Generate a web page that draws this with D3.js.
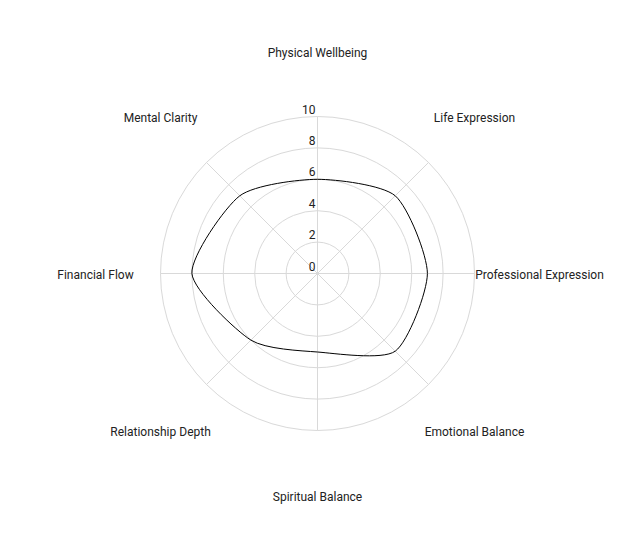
<!DOCTYPE html>
<html>
<head>
<meta charset="utf-8">
<script src="https://cdn.jsdelivr.net/npm/d3@7"></script>
<style>
  html, body { margin: 0; padding: 0; background: #fff; }
  svg { display: block; font-family: Roboto, "Noto Sans", sans-serif; }
</style>
</head>
<body>
<svg id="chart" width="635" height="547"></svg>
<script>
const categories = ["Physical Wellbeing", "Life Expression", "Professional Expression", "Emotional Balance",
                    "Spiritual Balance", "Relationship Depth", "Financial Flow", "Mental Clarity"];
const values = [6, 7, 7, 7, 5, 6, 8, 7];
const tickValues = [0, 2, 4, 6, 8, 10];

const W = 635, H = 547;
const cx = W / 2, cy = H / 2;
const R = 157;
const labelR = 222;

const svg = d3.select("#chart");
const g = svg.append("g").attr("transform", `translate(${cx},${cy})`);

const r = d3.scaleLinear().domain([0, 10]).range([0, R]);
const angle = d3.scalePoint().domain(categories).range([0, 2 * Math.PI * (categories.length - 1) / categories.length]);

// grid circles
g.selectAll("circle.grid").data(tickValues.filter(d => d > 0)).join("circle")
  .attr("class", "grid")
  .attr("r", d => r(d))
  .attr("fill", "none")
  .attr("stroke", "#d9d9d9")
  .attr("stroke-width", 1);

// axis spokes
g.selectAll("line.axis").data(categories).join("line")
  .attr("x1", 0).attr("y1", 0)
  .attr("x2", d => R * Math.sin(angle(d)))
  .attr("y2", d => -R * Math.cos(angle(d)))
  .attr("stroke", "#d9d9d9")
  .attr("stroke-width", 1);

// tick labels
g.selectAll("text.tick").data(tickValues).join("text")
  .attr("class", "tick")
  .attr("x", -2)
  .attr("y", d => -r(d) - 3)
  .attr("text-anchor", "end")
  .attr("font-size", 12)
  .attr("fill", "#222")
  .text(d => d);

// category labels
g.selectAll("text.cat").data(categories).join("text")
  .attr("class", "cat")
  .attr("x", d => labelR * Math.sin(angle(d)))
  .attr("y", d => -labelR * Math.cos(angle(d)))
  .attr("dy", "0.47em")
  .attr("text-anchor", "middle")
  .attr("font-size", 12)
  .attr("fill", "#222")
  .text(d => d);

// data line
const line = d3.lineRadial()
  .angle((d, i) => angle(categories[i]))
  .radius(d => r(d))
  .curve(d3.curveCardinalClosed.tension(0.3));

g.append("path")
  .datum(values)
  .attr("d", line)
  .attr("fill", "none")
  .attr("stroke", "#000")
  .attr("stroke-width", 1);
</script>
</body>
</html>
